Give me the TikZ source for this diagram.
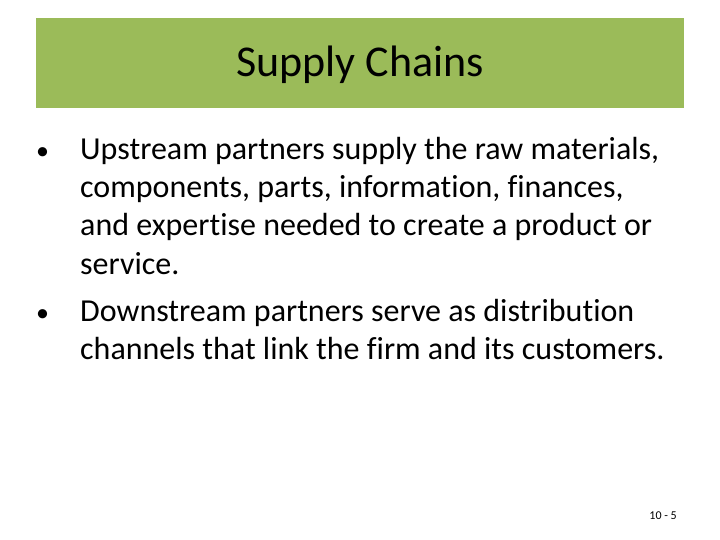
\documentclass[tikz,border=0pt]{standalone}
\usepackage{fontspec}
\setmainfont[Ligatures={NoCommon}]{Carlito}
\definecolor{titlegreen}{HTML}{9BBB59}
\begin{document}
\begin{tikzpicture}[x=1pt,y=-1pt,
  body/.style={anchor=base west,inner sep=0pt,font=\fontsize{32}{36}\selectfont},
  bul/.style={anchor=base west,inner sep=0pt,font=\fontsize{26}{30}\selectfont}]
\useasboundingbox[fill=white] (0,0) rectangle (720,540);
\fill[titlegreen] (36,18) rectangle (684,108);
\node[inner sep=0pt,font=\fontsize{44}{48}\selectfont] (title) at (360,65) {Supply Chains};
\node[bul] (b1) at (36,160) {•};
\node[body] (l1) at (80,160) {Upstream partners supply the raw materials,};
\node[body] (l2) at (80,198) {components, parts, information, finances,};
\node[body] (l3) at (80,236) {and expertise needed to create a product or};
\node[body] (l4) at (80,274) {service.};
\node[bul] (b2) at (36,321) {•};
\node[body] (l5) at (80,321) {Downstream partners serve as distribution};
\node[body] (l6) at (80,359) {channels that link the firm and its customers.};
\node[anchor=base east,inner sep=0pt,font=\fontsize{12}{14}\selectfont] (pg) at (677,519) {10 - 5};
\end{tikzpicture}
\end{document}
